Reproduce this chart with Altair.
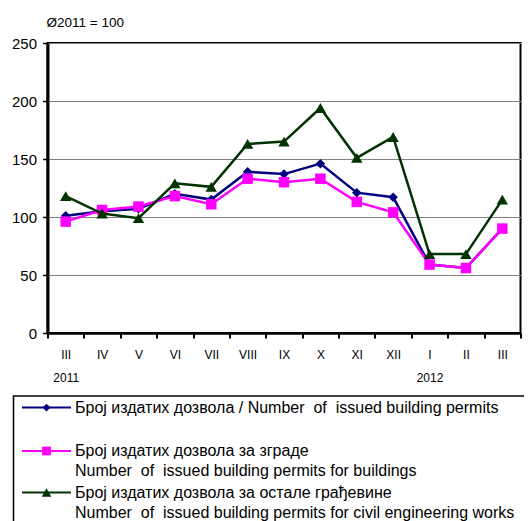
import altair as alt
import pandas as pd

months = ["III", "IV", "V", "VI", "VII", "VIII", "IX", "X", "XI", "XII", "I", "II", "III"]
years = ["2011", "", "", "", "", "", "", "", "", "", "2012", "", ""]
total = [101, 105, 107, 120, 115, 139, 137, 146, 121, 117, 59, 56, 90]
buildings = [96, 106, 109, 118, 111, 133, 130, 133, 113, 104, 59, 56, 90]
civil = [118, 103, 99, 129, 126, 163, 165, 194, 151, 169, 68, 68, 115]

NB = "\u00a0"
series_names = [
    f"Број издатих дозвола / Number {NB}of {NB}issued building permits",
    "Број издатих дозвола за зграде",
    "Број издатих дозвола за остале грађевине",
]
series_sub = ["", f"Number {NB}of {NB}issued building permits for buildings",
              f"Number {NB}of {NB}issued building permits for civil engineering works"]
series_values = [total, buildings, civil]
colors = ["#000080", "#FF00FF", "#003300"]
shapes = ["diamond", "square", "triangle-up"]
sizes = [90, 110, 130]

keys = [f"{i:02d}|{m}|{y}" for i, (m, y) in enumerate(zip(months, years))]

FONT = "Liberation Sans"
W, H = 473, 290

x_enc = alt.X(
    "key:N", sort=keys,
    scale=alt.Scale(type="band", paddingInner=0, paddingOuter=0),
    axis=alt.Axis(
        title=None, labelExpr="slice(split(datum.label, '|'), 1)",
        labelAngle=0, labelFontSize=12, labelFont=FONT, labelColor="black",
        labelLineHeight=23, labelPadding=11, tickBand="extent",
        tickSize=5, tickWidth=2, tickColor="black",
        domainColor="black", domainWidth=2.5, grid=False,
    ),
)
y_enc = alt.Y(
    "value:Q",
    scale=alt.Scale(domain=[0, 250], nice=False),
    axis=alt.Axis(
        values=[0, 50, 100, 150, 200, 250], title="Ø2011 = 100",
        titleAngle=0, titleAlign="left", titleBaseline="middle",
        titleX=-1.5, titleY=-21, titleFont=FONT, titleFontSize=13.5,
        titleFontWeight="normal", titleColor="black",
        labelFont=FONT, labelFontSize=15, labelColor="black", labelPadding=6,
        tickSize=5, tickWidth=1.5, tickColor="black",
        domainColor="black", domainWidth=3,
        grid=True, gridColor="#808080", gridWidth=1,
    ),
)

layers = []
for idx, (vals, col, shp, sz) in enumerate(zip(series_values, colors, shapes, sizes)):
    df = pd.DataFrame({"key": keys, "value": vals})
    base = alt.Chart(df).encode(x=x_enc, y=y_enc)
    layers.append(base.mark_line(color=col, strokeWidth=2.5))
    layers.append(base.mark_point(shape=shp, size=sz, filled=True, color=col, opacity=1))

one = alt.Data(values=[{}])
# legend box
layers.append(
    alt.Chart(one).mark_rect(fill="white", fillOpacity=0, stroke="black", strokeWidth=1.5).encode(
        x=alt.value(-34), x2=alt.value(W + 40), y=alt.value(353), y2=alt.value(H + 220)
    )
)
leg_y = [364.6, 408, 449.5]
sub_y = [None, 428.4, 470]
for i in range(3):
    layers.append(
        alt.Chart(one).mark_rule(color=colors[i], strokeWidth=2).encode(
            x=alt.value(-25.5), x2=alt.value(23.5), y=alt.value(leg_y[i])
        )
    )
    layers.append(
        alt.Chart(one).mark_point(shape=shapes[i], size=sizes[i] * 0.7, filled=True,
                                  color=colors[i], opacity=1).encode(
            x=alt.value(-1), y=alt.value(leg_y[i])
        )
    )
    layers.append(
        alt.Chart(one).mark_text(align="left", baseline="middle", font=FONT, fontSize=16,
                                 color="black").encode(
            x=alt.value(27.5), y=alt.value(leg_y[i]), text=alt.value(series_names[i])
        )
    )
    if series_sub[i]:
        layers.append(
            alt.Chart(one).mark_text(align="left", baseline="middle", font=FONT, fontSize=16,
                                     color="black").encode(
                x=alt.value(27.5), y=alt.value(sub_y[i]), text=alt.value(series_sub[i])
            )
        )

chart = alt.layer(*layers).properties(
    width=W, height=H,
    autosize=alt.AutoSizeParams(type="none"),
    padding={"left": 39.5, "top": 35, "right": 3, "bottom": 188},
    background="white",
).configure_view(stroke="black", strokeWidth=2)

chart.save("out.html", embed_options={"renderer": "svg", "actions": False})
